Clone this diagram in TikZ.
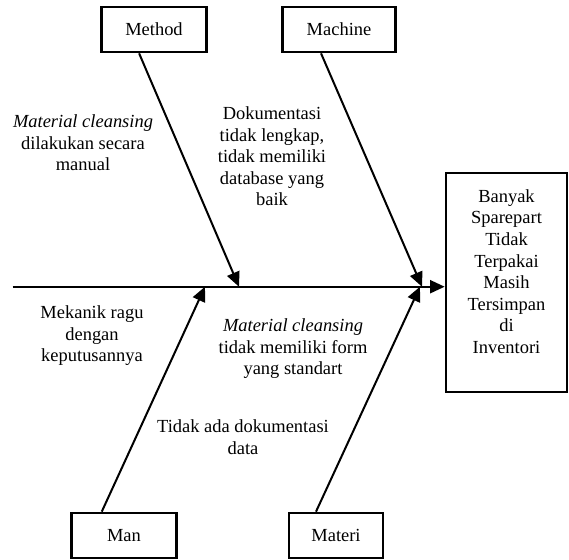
\documentclass[tikz,border=0pt]{standalone}
\usepackage{fontspec}
\setmainfont{Liberation Serif}
\usepackage{tikz}
\usetikzlibrary{arrows.meta}

\begin{document}
\begin{tikzpicture}[x=0.65pt, y=-0.65pt,
		box/.style={draw, line width=1.7pt, minimum height=29.3pt, inner sep=0pt, font=\fontsize{12}{14}\selectfont},
		txt/.style={align=center, inner sep=0pt, font=\fontsize{12}{14}\selectfont},
		bone/.style={line width=1.3pt, -{Triangle[length=9.5pt,width=8.5pt]}}]
	\useasboundingbox (0,0) rectangle (569,559);
	% kategori
	\node[box, minimum width=68.3pt] (method) at (154,29.5) {Method};
	\node[box, minimum width=73.8pt] (machine) at (339,29.5) {Machine};
	\node[box, minimum width=67.9pt] (man) at (124,535.5) {Man};
	\node[box, minimum width=61.1pt] (materi) at (336,535.5) {Materi};
	% akibat
	\node[box, minimum width=78.7pt, minimum height=142.4pt] (effect) at (506.5,282.5) {};
	\node[txt] (efftext) at (506.5,271.5) {Banyak\\Sparepart\\Tidak\\Terpakai\\Masih\\Tersimpan\\di\\Inventori};
	% tulang utama
	\coordinate (tail) at (12.7,286.7);
	\draw[bone] (tail) -- (tail -| effect.west);
	\coordinate (jmethod) at (239,286.7);
	\coordinate (jmachine) at (422,286.7);
	\coordinate (jman) at (205,286.7);
	\coordinate (jmateri) at (420,286.7);
	\draw[bone] (method.238) -- (jmethod);
	\draw[bone] (machine.233) -- (jmachine);
	\draw[bone] (man.133) -- (jman);
	\draw[bone] (materi.130) -- (jmateri);
	% penyebab
	\node[txt] (cmethod) at (83,143) {\textit{Material cleansing}\\dilakukan secara\\manual};
	\node[txt] (cmachine) at (272,156.5) {Dokumentasi\\tidak lengkap,\\tidak memiliki\\database yang\\baik};
	\node[txt] (cman) at (92,336) {Mekanik ragu\\dengan\\keputusannya};
	\node[txt] (cmateri) at (293,349) {\textit{Material cleansing}\\tidak memiliki form\\yang standart};
	\node[txt] (cdata) at (243,437) {Tidak ada dokumentasi\\data};
\end{tikzpicture}
\end{document}
